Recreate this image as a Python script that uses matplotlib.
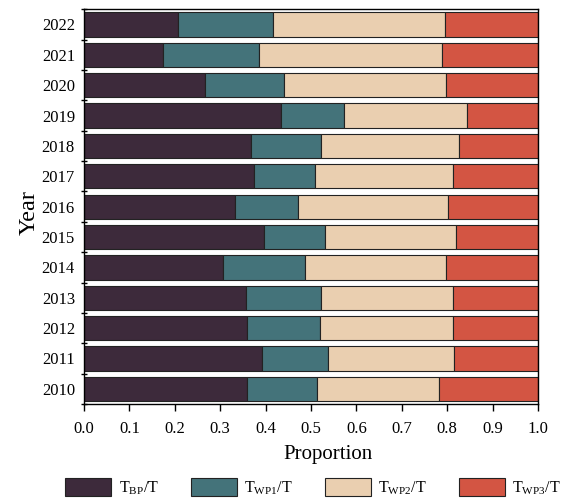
import matplotlib
matplotlib.use("Agg")
import matplotlib.pyplot as plt
import numpy as np

plt.rcParams['font.family'] = ['Liberation Serif', 'DejaVu Serif']
plt.rcParams['mathtext.fontset'] = 'custom'
plt.rcParams['mathtext.rm'] = 'Liberation Serif'
plt.rcParams['mathtext.it'] = 'Liberation Serif:italic'

years = ['2010', '2011', '2012', '2013', '2014', '2015', '2016',
         '2017', '2018', '2019', '2020', '2021', '2022']

t_bp = [0.358, 0.391, 0.358, 0.356, 0.307, 0.397, 0.333,
        0.375, 0.367, 0.435, 0.266, 0.175, 0.206]
t_wp1 = [0.156, 0.146, 0.161, 0.167, 0.179, 0.133, 0.139,
         0.133, 0.156, 0.138, 0.175, 0.211, 0.211]
t_wp2 = [0.269, 0.277, 0.294, 0.290, 0.312, 0.290, 0.330,
         0.305, 0.303, 0.271, 0.357, 0.403, 0.378]
t_wp3 = [0.217, 0.186, 0.187, 0.187, 0.202, 0.180, 0.198,
         0.187, 0.174, 0.156, 0.202, 0.211, 0.205]

series = [t_bp, t_wp1, t_wp2, t_wp3]
labels = [r'T$_\mathrm{BP}$/T', r'T$_\mathrm{WP1}$/T',
          r'T$_\mathrm{WP2}$/T', r'T$_\mathrm{WP3}$/T']
colors = ['#3D2A3B', '#44737A', '#EACFB0', '#D35543']

fig = plt.figure(figsize=(5.68, 4.99), dpi=100)
ax = fig.add_axes([84 / 568, 1 - 404 / 499, 454 / 568, 394.7 / 499])

y = np.arange(len(years))
left = np.zeros(len(years))
handles = []
for vals, lab, col in zip(series, labels, colors):
    vals = np.asarray(vals)
    h = ax.barh(y, vals, left=left, height=0.8, color=col,
                edgecolor='#222222', linewidth=0.8, label=lab)
    handles.append(h)
    left += vals

ax.set_xlim(0, 1)
ax.set_ylim(-0.5, len(years) - 0.5)
ax.set_xticks(np.arange(0, 1.01, 0.1))
ax.set_xticklabels([f'{v:.1f}' for v in np.arange(0, 1.01, 0.1)], fontsize=12)

# year labels sit at bar centres, tick marks sit between bars
ax.set_yticks(np.arange(-0.5, len(years), 1.0))
ax.set_yticklabels([])
ax.set_yticks(y, minor=True)
ax.set_yticklabels(years, minor=True, fontsize=12)
ax.tick_params(axis='y', which='major', direction='inout', length=5, width=1)
ax.tick_params(axis='y', which='minor', length=0, pad=6.5)
ax.tick_params(axis='x', direction='out', length=5, width=1, pad=7)

for s in ax.spines.values():
    s.set_linewidth(1.0)
    s.set_color('black')

ax.set_xlabel('Proportion', fontsize=15)
ax.xaxis.set_label_coords(0.537, -0.104)
ax.set_ylabel('Year', fontsize=17.5)
ax.yaxis.set_label_coords(-0.098, 0.484)

fig.legend(handles=handles, labels=labels, loc='center',
           bbox_to_anchor=(313 / 568, 1 - 487.5 / 499), ncol=4,
           frameon=False, fontsize=11.5, handlelength=2.9, handleheight=1.3,
           handletextpad=0.45, columnspacing=2.0, borderpad=0)

fig.savefig('out.png', dpi=100)
